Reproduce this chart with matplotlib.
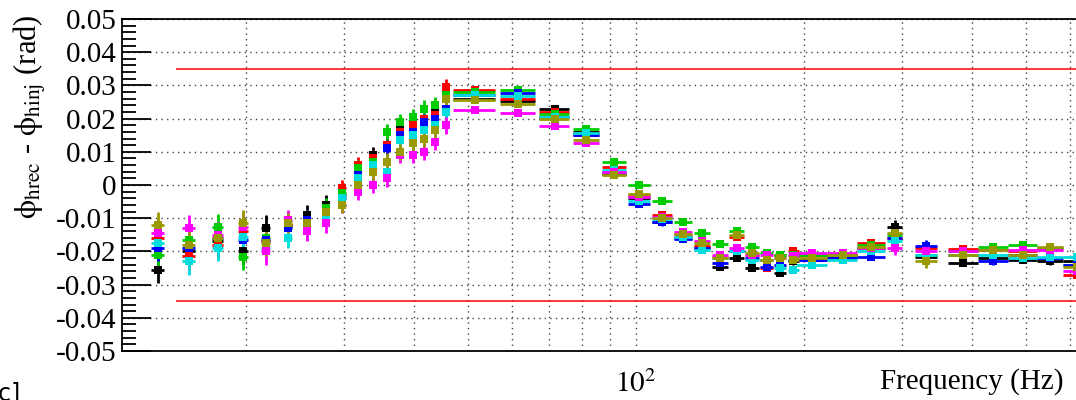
import matplotlib
matplotlib.use("Agg")
import matplotlib.pyplot as plt
from matplotlib.ticker import FixedLocator, MultipleLocator, NullFormatter, FixedFormatter, FuncFormatter

plt.rcParams["font.family"] = "serif"
plt.rcParams["font.serif"] = ["Liberation Serif", "DejaVu Serif"]
plt.rcParams["mathtext.fontset"] = "stix"
plt.rcParams["axes.unicode_minus"] = False

# frequency points (Hz) and half bin widths
freq = [13.9, 15.8, 17.8, 19.8, 21.7, 23.8, 25.7, 27.8, 29.8, 31.8, 33.8, 35.8,
        37.8, 39.8, 41.7, 43.6, 45.6,
        51.5, 61.5, 71.5, 81.5, 91.5, 101.5, 111.5, 121.5, 131.5, 141.5, 151.5,
        161.5, 171.5, 181.5, 191.5,
        207, 235, 264, 291, 331, 386, 437, 494, 553, 617]
freq_err = [0.4] * 17 + [4.5] * 15 + [13.5, 14.5, 15, 9, 15, 24, 27, 30, 29, 35]
phase_err = ([0.004] * 5 + [0.003] * 3 + [0.0025] * 9 + [0.001] * 15
             + [0.001, 0.001, 0.001, 0.002, 0.002] + [0.001] * 5)

dphi_black = [-0.0255, -0.020, -0.017, -0.020, -0.013, -0.012, -0.009, -0.006, -0.003, 0.003,
              0.009, 0.012, 0.0166, 0.017, 0.020, 0.022, 0.028,
              0.0259, 0.0253, 0.0229, 0.016, 0.0033, -0.004, -0.011, -0.016, -0.019, -0.0247,
              -0.022, -0.025, -0.0225, -0.0265, -0.023,
              -0.0226, -0.0215, -0.019, -0.0126, -0.0217, -0.0235, -0.022, -0.0225, -0.023, -0.023]
dphi_red = [-0.016, -0.0215, -0.018, -0.014, -0.017, -0.012, -0.0115, -0.0075, -0.001, 0.006,
            0.008, 0.012, 0.016, 0.018, 0.020, 0.021, 0.0295,
            0.0286, 0.026, 0.022, 0.015, 0.0054, -0.003, -0.009, -0.015, -0.0185, -0.0216,
            -0.0156, -0.021, -0.025, -0.021, -0.020,
            -0.021, -0.021, -0.0175, -0.016, -0.019, -0.0193, -0.0196, -0.020, -0.019, -0.027]
dphi_green = [-0.021, -0.0165, -0.0126, -0.0217, -0.016, -0.0125, -0.0105, -0.007, -0.0025, 0.005,
              0.007, 0.016, 0.019, 0.0205, 0.023, 0.024, 0.027,
              0.028, 0.0286, 0.0214, 0.0169, 0.0069, 0.000, -0.0048, -0.011, -0.0145, -0.0178,
              -0.014, -0.0186, -0.0205, -0.021, -0.021,
              -0.021, -0.021, -0.018, -0.015, -0.021, -0.020, -0.0186, -0.018, -0.019, -0.024]
dphi_blue = [-0.019, -0.019, -0.016, -0.0165, -0.0165, -0.013, -0.0105, -0.008, -0.004, 0.003,
             0.006, 0.011, 0.015, 0.016, 0.019, 0.020, 0.023,
             0.027, 0.0277, 0.0205, 0.015, 0.004, -0.0057, -0.0112, -0.0162, -0.019, -0.0235,
             -0.020, -0.022, -0.0247, -0.024, -0.0225,
             -0.0226, -0.022, -0.0217, -0.016, -0.0185, -0.021, -0.023, -0.021, -0.022, -0.024]
dphi_cyan = [-0.0175, -0.023, -0.019, -0.0156, -0.019, -0.016, -0.0135, -0.0096, -0.004, 0.002,
             0.006, 0.004, 0.0136, 0.015, 0.0166, 0.018, 0.022,
             0.027, 0.0268, 0.0205, 0.0157, 0.0045, -0.0048, -0.0103, -0.0156, -0.0195, -0.022,
             -0.020, -0.0226, -0.0225, -0.025, -0.0256,
             -0.024, -0.0226, -0.020, -0.017, -0.021, -0.021, -0.021, -0.022, -0.0217, -0.0217]
dphi_magenta = [-0.0145, -0.013, -0.015, -0.0125, -0.020, -0.0105, -0.014, -0.0115, -0.006, -0.002,
                0.000, 0.002, 0.009, 0.009, 0.010, 0.013, 0.018,
                0.0226, 0.0217, 0.0178, 0.0127, 0.004, -0.0036, -0.0095, -0.0143, -0.017, -0.021,
                -0.019, -0.021, -0.021, -0.022, -0.0215,
                -0.0205, -0.0205, -0.019, -0.019, -0.020, -0.020, -0.0196, -0.0196, -0.0195, -0.026]
dphi_olive = [-0.012, -0.018, -0.016, -0.0115, -0.0175, -0.0115, -0.0115, -0.008, -0.006, 0.000,
              0.004, 0.007, 0.010, 0.0126, 0.014, 0.0166, 0.026,
              0.0256, 0.0244, 0.020, 0.0136, 0.003, -0.0027, -0.010, -0.0148, -0.0175, -0.022,
              -0.015, -0.0205, -0.0226, -0.022, -0.0226,
              -0.022, -0.021, -0.0186, -0.0145, -0.023, -0.021, -0.0196, -0.021, -0.0187, -0.0247]

series = [
    (dphi_black, "black"),
    (dphi_red, "#ff0000"),
    (dphi_green, "#00cc00"),
    (dphi_blue, "#0000ff"),
    (dphi_cyan, "#00dddd"),
    (dphi_magenta, "#ff00ff"),
    (dphi_olive, "#999900"),
]

limit = 0.035
limit_start = 15.0

fig = plt.figure(figsize=(10.76, 4.0), dpi=100)
ax = fig.add_axes([122 / 1076, 49 / 400, 958 / 1076, 332 / 400])

for vals, col in series:
    ax.errorbar(freq, vals, xerr=freq_err, yerr=phase_err, fmt="s", color=col,
                markersize=5.5, elinewidth=2.0, capsize=3.2, capthick=2.0,
                markeredgewidth=0)

ax.hlines([limit, -limit], limit_start, 700, colors="red", linewidth=1.1, zorder=5)

ax.set_xscale("log")
ax.set_xlim(12.0, 625)
ax.set_ylim(-0.05, 0.05)

grid_f = [20, 30, 40, 50, 60, 70, 80, 90, 100, 200, 300, 400, 500, 600]
ax.xaxis.set_major_locator(FixedLocator(grid_f))
ax.xaxis.set_major_formatter(FixedFormatter(["" if f != 100 else r"$10^{2}$" for f in grid_f]))
ax.xaxis.set_minor_locator(FixedLocator([]))
ax.xaxis.set_minor_formatter(NullFormatter())
ax.tick_params(axis="x", which="both", length=0, labelsize=21, pad=14)

ax.yaxis.set_major_locator(MultipleLocator(0.01))
ax.yaxis.set_minor_locator(MultipleLocator(0.002))
ax.yaxis.set_major_formatter(FuncFormatter(lambda v, p: "0" if abs(v) < 1e-9 else f"{v:.2f}"))
ax.tick_params(axis="y", which="major", direction="in", length=21, width=1.3, labelsize=21, pad=4)
ax.tick_params(axis="y", which="minor", direction="in", length=10, width=1.3)

ax.grid(True, which="major", linestyle=(0, (1, 3)), color="#444444", linewidth=1.0)
for s in ax.spines.values():
    s.set_linewidth(1.3)

fig.text(880 / 1076, 1 - 382 / 400, "Frequency (Hz)", fontsize=21, ha="left", va="center")
fig.text(30 / 1076, 1 - 14 / 400,
         r"$\mathrm{\phi_{hrec}}$ - $\mathrm{\phi_{hinj}}$ (rad)",
         fontsize=22, rotation=90, ha="center", va="top")
fig.text(-11 / 1076, 0.0, "[c]", fontsize=17, family="DejaVu Sans", ha="left", va="baseline")

fig.savefig("out.png", dpi=100)
